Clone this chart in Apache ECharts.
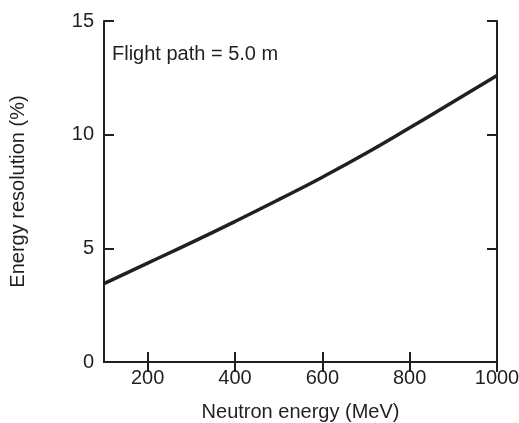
<!DOCTYPE html>
<html>
<head>
<meta charset="utf-8">
<script src="https://cdn.jsdelivr.net/npm/echarts@6/dist/echarts.min.js"></script>
<style>
  html, body { margin: 0; padding: 0; background: #fff; }
  #chart { width: 519px; height: 423px; }
</style>
</head>
<body>
<div id="chart"></div>
<script>
// values
const energy = [100, 200, 300, 400, 500, 600, 700, 800, 900, 1000];
const resolution = [3.45, 4.35, 5.25, 6.18, 7.14, 8.13, 9.18, 10.3, 11.45, 12.6];
const xTicks = [200, 400, 600, 800, 1000];
const yTicks = [0, 5, 10, 15];

const ink = '#231f20';
const font = '"Liberation Sans", Arial, sans-serif';
const fontSize = 20;

const chart = echarts.init(document.getElementById('chart'));

const axisLine = { show: true, lineStyle: { color: ink, width: 2 } };
const tickStyle = { inside: true, length: 10, lineStyle: { color: ink, width: 2 } };

chart.setOption({
    animation: false,
    title: {
        text: 'Flight path = 5.0 m',
        left: 107,
        top: 39,
        textStyle: { fontFamily: font, fontSize: fontSize, fontWeight: 'normal', color: ink }
    },
    grid: { left: 104, right: 22, top: 21, bottom: 61, containLabel: false, outerBoundsMode: 'none' },
    xAxis: [
        {
            type: 'value', min: 100, max: 1000, position: 'bottom',
            name: 'Neutron energy (MeV)', nameLocation: 'middle', nameGap: 40,
            nameTextStyle: { fontFamily: font, fontSize: fontSize, color: ink },
            axisLine: axisLine,
            axisTick: Object.assign({ customValues: xTicks }, tickStyle),
            axisLabel: {
                customValues: xTicks, margin: 6, fontFamily: font, fontSize: fontSize, color: ink,
                formatter: (v) => String(v)
            },
            splitLine: { show: false }
        },
        {
            type: 'value', min: 100, max: 1000, position: 'top',
            axisLine: axisLine,
            axisTick: Object.assign({ customValues: xTicks }, tickStyle),
            axisLabel: { show: false },
            splitLine: { show: false }
        }
    ],
    yAxis: [
        {
            type: 'value', min: 0, max: 15, interval: 5, position: 'left',
            name: 'Energy resolution (%)', nameLocation: 'middle', nameGap: 76,
            nameTextStyle: { fontFamily: font, fontSize: fontSize, color: ink },
            axisLine: axisLine,
            axisTick: Object.assign({ customValues: yTicks }, tickStyle),
            axisLabel: { customValues: yTicks, margin: 10, fontFamily: font, fontSize: fontSize, color: ink },
            splitLine: { show: false }
        },
        {
            type: 'value', min: 0, max: 15, interval: 5, position: 'right',
            axisLine: axisLine,
            axisTick: Object.assign({ customValues: yTicks }, tickStyle),
            axisLabel: { show: false },
            splitLine: { show: false }
        }
    ],
    series: [
        {
            type: 'line',
            smooth: true,
            symbol: 'none',
            lineStyle: { color: ink, width: 3.5 },
            data: energy.map((e, i) => [e, resolution[i]])
        }
    ]
});
</script>
</body>
</html>
